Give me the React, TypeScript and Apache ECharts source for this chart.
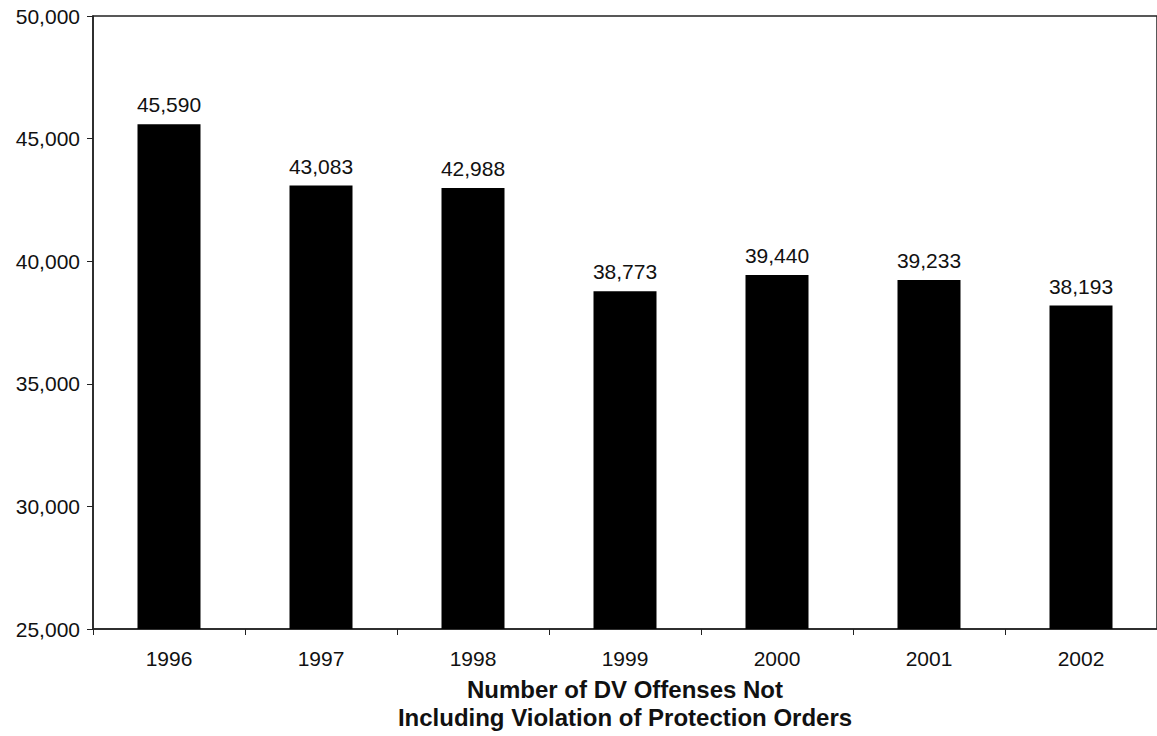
import React, { useEffect, useRef } from "react";
import * as echarts from "echarts";

const years = ["1996", "1997", "1998", "1999", "2000", "2001", "2002"];
const offenses = [45590, 43083, 42988, 38773, 39440, 39233, 38193];
const yMin = 25000;
const yMax = 50000;
const yStep = 5000;
const xTitle = "Number of DV Offenses Not\nIncluding Violation of Protection Orders";

const fmt = (v: number) => v.toLocaleString("en-US");
const FONT = "Liberation Sans, Arial, sans-serif";

export default function App() {
  const ref = useRef<HTMLDivElement>(null);
  useEffect(() => {
    if (!ref.current) return;
    const chart = echarts.init(ref.current, null, { renderer: "svg" });
    chart.setOption({
      animation: false,
      backgroundColor: "#ffffff",
      grid: {
        left: 93,
        top: 16,
        right: -4,
        bottom: 106,
        show: true,
        borderColor: "#222",
        borderWidth: 1.5,
        backgroundColor: "transparent",
      },
      xAxis: {
        type: "category",
        data: years,
        axisLine: { lineStyle: { color: "#222", width: 1.5 } },
        axisTick: { show: true, length: 6, inside: false, alignWithLabel: false, lineStyle: { color: "#222" } },
        axisLabel: { color: "#111", fontSize: 21, fontFamily: FONT, margin: 19 },
        name: xTitle,
        nameLocation: "middle",
        nameGap: 46,
        nameTextStyle: {
          color: "#111",
          fontSize: 24,
          fontWeight: "bold",
          fontFamily: FONT,
          lineHeight: 28,
          align: "center",
          verticalAlign: "top",
        },
      },
      yAxis: {
        type: "value",
        min: yMin,
        max: yMax,
        interval: yStep,
        splitLine: { show: false },
        axisLine: { show: true, lineStyle: { color: "#222", width: 1.5 } },
        axisTick: { show: true, length: 6, lineStyle: { color: "#222" } },
        axisLabel: {
          color: "#111",
          fontSize: 21,
          fontFamily: FONT,
          margin: 13,
          formatter: (v: number) => fmt(v),
        },
      },
      series: [
        {
          type: "bar",
          data: offenses,
          barWidth: 63,
          itemStyle: { color: "#000" },
          label: {
            show: true,
            position: "top",
            distance: 9,
            color: "#111",
            fontSize: 21,
            fontFamily: FONT,
            formatter: (p: any) => fmt(p.value),
          },
        },
      ],
    });
    return () => chart.dispose();
  }, []);
  return <div ref={ref} style={{ width: 1157, height: 736, position: "absolute", left: 0, top: 0 }} />;
}
